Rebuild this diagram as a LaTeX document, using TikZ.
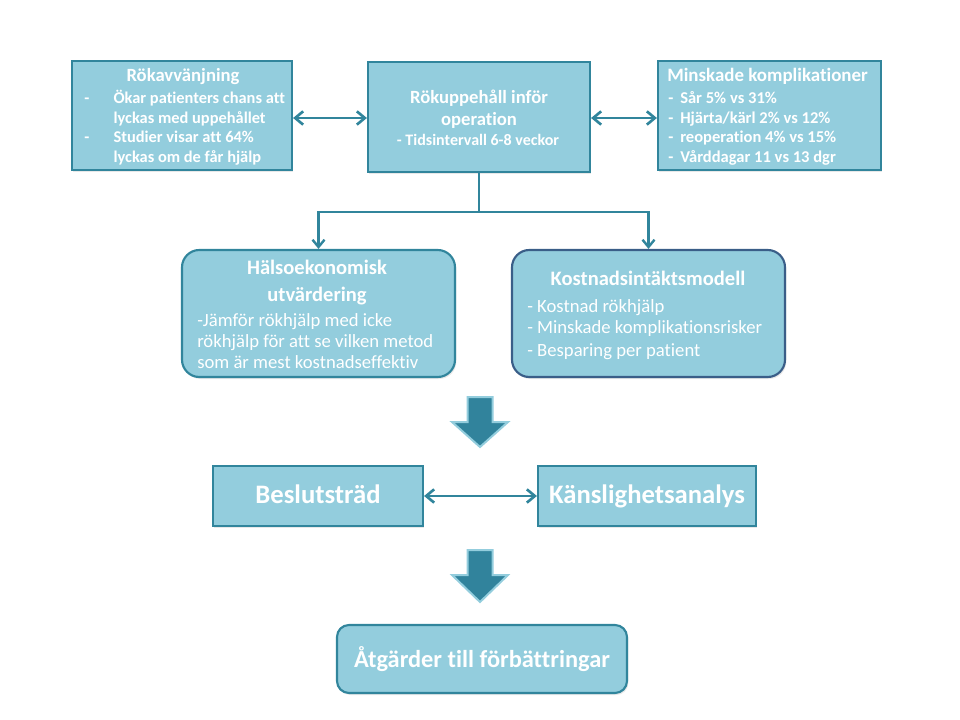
\documentclass[tikz,border=0pt]{standalone}
\usepackage{fontspec}
\setmainfont[Ligatures=NoCommon]{Carlito}
\usetikzlibrary{arrows.meta,fit,shadows}
\definecolor{boxfill}{RGB}{147,205,221}
\definecolor{boxline}{RGB}{49,133,156}
\definecolor{navyline}{RGB}{58,94,136}
\definecolor{arrowfill}{RGB}{49,131,156}
\newcommand\fsz[1]{\fontsize{#1}{#1}\selectfont}
\begin{document}
\begin{tikzpicture}[x=0.75pt,y=-0.75pt,
  box/.style={draw=boxline,fill=boxfill,line width=1.6pt,inner sep=0pt,
    drop shadow={opacity=0.18,shadow xshift=1pt,shadow yshift=-1.5pt}},
  rbox/.style={box,rounded corners=13pt},
  txt/.style={text=white,inner sep=0pt},
  conn/.style={draw=boxline,line width=2pt},
  dbl/.style={conn,{Straight Barb[length=6pt,width=10pt]}-{Straight Barb[length=6pt,width=10pt]}},
  tip/.style={conn,line width=1.8pt,-{Straight Barb[length=5.5pt,width=9pt]}},
  blockarrow/.style={fill=arrowfill,draw=boxfill,line width=1.5pt,line join=miter},
]
\useasboundingbox (0,0) rectangle (960,720);

% boxes
\node[box,fit={(72,61) (292,170)}] (r1) {};
\node[box,fit={(368,62) (590,172)}] (r2) {};
\node[box,fit={(658,61) (881,170)}] (r3) {};
\node[rbox,fit={(182,250) (455,377)}] (h) {};
\node[rbox,draw=navyline,fit={(512,250) (785,377)}] (k) {};
\node[box,fit={(213,466) (423,526)}] (b) {};
\node[box,fit={(538,466) (756,526)}] (s) {};
\node[rbox,rounded corners=9pt,fit={(337,625) (627,693)}] (a) {};

% Rökavvänjning
\node[txt,anchor=base,font=\fsz{14}\bfseries] (r1h) at (183,82) {Rökavvänjning};
\node[txt,anchor=base west,font=\fsz{12.3}\bfseries] (r1a) at (84,104) {\makebox[22pt][l]{-}Ökar patienters chans att};
\node[txt,anchor=base west,font=\fsz{12.3}\bfseries] (r1b) at (84,123.5) {\makebox[22pt][l]{}lyckas med uppehållet};
\node[txt,anchor=base west,font=\fsz{12.3}\bfseries] (r1c) at (84,143) {\makebox[22pt][l]{-}Studier visar att 64\%};
\node[txt,anchor=base west,font=\fsz{12.3}\bfseries] (r1d) at (84,162.5) {\makebox[22pt][l]{}lyckas om de får hjälp};

% Rökuppehåll
\node[txt,anchor=base,font=\fsz{14}\bfseries] (r2a) at (479,104) {Rökuppehåll inför};
\node[txt,anchor=base,font=\fsz{14}\bfseries] (r2b) at (479,126) {operation};
\node[txt,anchor=base,font=\fsz{12}\bfseries] (r2c) at (478,146) {- Tidsintervall 6-8 veckor};

% Minskade komplikationer
\node[txt,anchor=base west,font=\fsz{14.2}\bfseries] (r3h) at (667,82) {Minskade komplikationer};
\node[txt,anchor=base west,font=\fsz{12.4}\bfseries] (r3a) at (668,104) {\makebox[9pt][l]{-}Sår 5\% vs 31\%};
\node[txt,anchor=base west,font=\fsz{12.4}\bfseries] (r3b) at (668,123.5) {\makebox[9pt][l]{-}Hjärta/kärl 2\% vs 12\%};
\node[txt,anchor=base west,font=\fsz{12.4}\bfseries] (r3c) at (668,143) {\makebox[9pt][l]{-}reoperation 4\% vs 15\%};
\node[txt,anchor=base west,font=\fsz{12.4}\bfseries] (r3d) at (668,162.5) {\makebox[9pt][l]{-}Vårddagar 11 vs 13 dgr};

% Hälsoekonomisk utvärdering
\node[txt,anchor=base,font=\fsz{15.4}\bfseries] (ha) at (317,275) {Hälsoekonomisk};
\node[txt,anchor=base,font=\fsz{15.4}\bfseries] (hb) at (317,301) {utvärdering};
\node[txt,anchor=base west,font=\fsz{14}] (hc) at (197,326) {-Jämför rökhjälp med icke};
\node[txt,anchor=base west,font=\fsz{14}] (hd) at (197,347) {rökhjälp för att se vilken metod};
\node[txt,anchor=base west,font=\fsz{14}] (he) at (197,368) {som är mest kostnadseffektiv};

% Kostnadsintäktsmodell
\node[txt,anchor=base,font=\fsz{15.4}\bfseries] (ka) at (648,286) {Kostnadsintäktsmodell};
\node[txt,anchor=base west,font=\fsz{14}] (kb) at (527,312) {- Kostnad rökhjälp};
\node[txt,anchor=base west,font=\fsz{14}] (kc) at (527,334) {- Minskade komplikationsrisker};
\node[txt,anchor=base west,font=\fsz{14}] (kd) at (527,356) {- Besparing per patient};

% lower boxes text
\node[txt,anchor=base,font=\fsz{20}\bfseries] (bt) at (b.center |- 0,503) {Beslutsträd};
\node[txt,anchor=base,font=\fsz{20}\bfseries] (st) at (s.center |- 0,503) {Känslighetsanalys};
\node[txt,anchor=base,font=\fsz{18.3}\bfseries] (at) at (a.center |- 0,667) {Åtgärder till förbättringar};

% connectors
\draw[dbl] (r1.east |- 0,118) -- (r2.west |- 0,118);
\draw[dbl] (r2.east |- 0,118) -- (r3.west |- 0,118);
\coordinate (jn) at (r2.south |- 0,212);
\draw[conn,line width=1.8pt] (r2.south) -- (jn);
\draw[tip] (jn) -| (h.north);
\draw[tip] (jn) -| (k.north);
\draw[dbl] (b.east) -- (s.west);

% block arrows
\draw[blockarrow] (467.5,397) -- (492.5,397) -- (492.5,422) -- (508,422) -- (480,447) -- (452,422) -- (467.5,422) -- cycle;
\draw[blockarrow] (467.5,550) -- (492.5,550) -- (492.5,575) -- (508,575) -- (480,602) -- (452,575) -- (467.5,575) -- cycle;
\end{tikzpicture}
\end{document}
